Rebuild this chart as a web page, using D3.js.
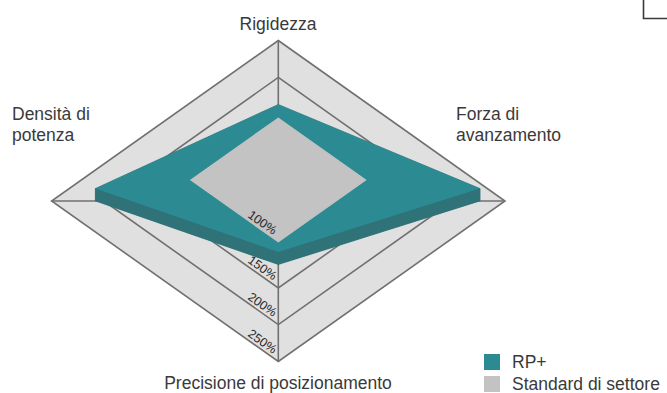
<!DOCTYPE html>
<html>
<head>
<meta charset="utf-8">
<script src="https://cdn.jsdelivr.net/npm/d3@7"></script>
<style>
  html, body { margin: 0; padding: 0; background: #fff; }
  svg { display: block; }
  text { font-family: "Liberation Sans", Arial, sans-serif; fill: #3a3a3a; }
</style>
</head>
<body>
<svg id="chart" width="667" height="393"></svg>
<script>
// ---- data ----
const axisNames = ["Rigidezza", "Forza di avanzamento", "Precisione di posizionamento", "Densità di potenza"];
const rpPlus = [144, 226, 102, 208];          // RP+ (%)
const standard = [100, 100, 100, 100];        // Standard di settore (%)
const gridValues = [150, 200, 250];
const tickValues = [100, 150, 200, 250];
const tickLabels = ["100%", "150%", "200%", "250%"];
const seriesNames = ["RP+", "Standard di settore"];

(function () {
// ---- layout ----
const svg = d3.select("#chart");
const cx = 278.3, cy = 201;
const RX = 226.7, RY = 160.5;
const slab = 12.5;      // teal slab thickness
const grayLift = 21;    // gray face elevation
const dirs = [[0, -1], [1, 0], [0, 1], [-1, 0]];

const r = d3.scaleLinear().domain([100, 150, 200, 250]).range([0.39, 0.542, 0.77, 1]);

function pts(values, lift) {
  return values.map((v, i) => [cx + dirs[i][0] * r(v) * RX, cy - lift + dirs[i][1] * r(v) * RY]);
}
const line = d3.line().curve(d3.curveLinearClosed);
const stroke = "#707070";

// background outer diamond
const outer = pts([250, 250, 250, 250], 0);
svg.append("path").attr("d", line(outer)).attr("fill", "#e0e0e0").attr("stroke", "none");

// axis lines
svg.append("line").attr("x1", outer[0][0]).attr("y1", outer[0][1]).attr("x2", outer[2][0]).attr("y2", outer[2][1])
  .attr("stroke", stroke).attr("stroke-width", 1.6);
svg.append("line").attr("x1", outer[3][0]).attr("y1", outer[3][1]).attr("x2", outer[1][0]).attr("y2", outer[1][1])
  .attr("stroke", stroke).attr("stroke-width", 1.6);

// grid rings
svg.selectAll("path.ring").data(gridValues).join("path").attr("class", "ring")
  .attr("d", v => line(pts([v, v, v, v], 0)))
  .attr("fill", "none").attr("stroke", stroke).attr("stroke-width", 1.6);

// teal slab
const face = pts(rpPlus, slab);
const base = face.map(p => [p[0], p[1] + slab]);
const sideColor = "#2f7278";
face.forEach((p, i) => {
  const j = (i + 1) % face.length;
  svg.append("path").attr("d", line([face[i], face[j], base[j], base[i]]))
    .attr("fill", sideColor).attr("stroke", sideColor).attr("stroke-width", 0.5);
});
svg.append("path").attr("d", line(base)).attr("fill", sideColor);
svg.append("path").attr("d", line(face)).attr("fill", "#2c8a93");

// standard (gray)
svg.append("path").attr("d", line(pts(standard, grayLift))).attr("fill", "#c3c3c3");

// tick labels along lower-left edges
const ang = Math.atan2(RY, RX) * 180 / Math.PI;
tickValues.forEach((v, k) => {
  const lift = v === 100 ? grayLift : 0;
  const f = r(v);
  const x0 = cx - f * RX, y0 = cy - lift;
  const x1 = cx, y1 = cy - lift + f * RY;
  const xe = cx - 7;
  const ye = y0 + (xe - x0) * (y1 - y0) / (x1 - x0);
  svg.append("text")
    .attr("transform", `translate(${xe},${ye}) rotate(${ang}) translate(0,-3)`)
    .attr("text-anchor", "end")
    .style("font-size", "12.5px")
    .style("fill", "#2a2a2a")
    .text(tickLabels[k]);
});

// axis labels
const fs = "17.5px";
svg.append("text").attr("x", 278).attr("y", 30).attr("text-anchor", "middle").style("font-size", fs).text(axisNames[0]);
const forza = svg.append("text").attr("x", 456).attr("y", 120).style("font-size", fs);
forza.append("tspan").attr("x", 456).text("Forza di");
forza.append("tspan").attr("x", 456).attr("dy", 21).text("avanzamento");
svg.append("text").attr("x", 278).attr("y", 389).attr("text-anchor", "middle").style("font-size", fs).text(axisNames[2]);
const dens = svg.append("text").attr("x", 12).attr("y", 120).style("font-size", fs);
dens.append("tspan").attr("x", 12).text("Densità di");
dens.append("tspan").attr("x", 12).attr("dy", 21).text("potenza");

// legend
const legColors = ["#2c8a93", "#c3c3c3"];
seriesNames.forEach((name, i) => {
  svg.append("rect").attr("x", 484).attr("y", 354 + i * 22).attr("width", 16).attr("height", 16).attr("fill", legColors[i]);
  svg.append("text").attr("x", 512).attr("y", 368 + i * 22).style("font-size", fs).text(name);
});

// corner mark
svg.append("path").attr("d", "M643.5,0 V18.5 H667").attr("fill", "none").attr("stroke", "#3a3a3a").attr("stroke-width", 1.6);
})();
</script>
</body>
</html>
